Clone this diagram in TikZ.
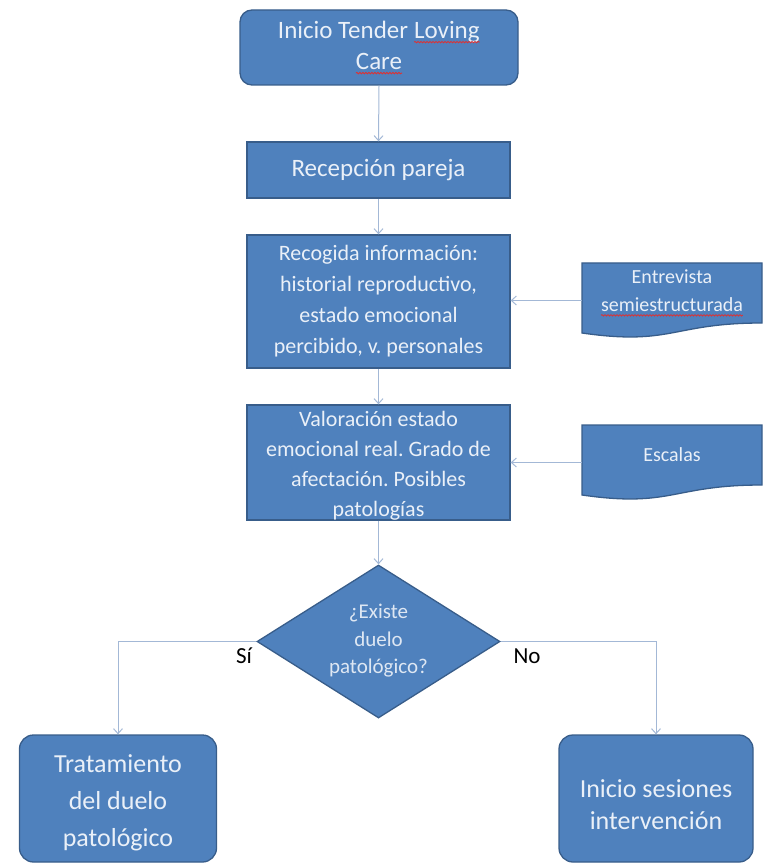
\documentclass[tikz,border=0pt]{standalone}
\usepackage{fontspec}
\setmainfont{Carlito}
\frenchspacing
\usetikzlibrary{shapes.geometric,arrows.meta,decorations.pathmorphing}
\definecolor{boxfill}{HTML}{4F81BD}
\definecolor{boxborder}{HTML}{385D8A}
\definecolor{boxtext}{HTML}{EAF0F8}
\definecolor{linecol}{HTML}{A3B8D6}
\definecolor{spellred}{HTML}{E03030}
\newcommand\spellerr[1]{\tikz[baseline=(sp.base)]{\node[inner sep=0pt,outer sep=0pt,
    minimum width=0pt,minimum height=0pt,draw=none,fill=none,sharp corners,shape=rectangle] (sp) {#1};
  \draw[draw=spellred,fill=none,sharp corners,line width=0.8pt,decorate,decoration={snake,amplitude=0.7pt,segment length=3pt}]
  ([yshift=-4pt]sp.base west) -- ([yshift=-4pt]sp.base east);}}
\begin{document}
\begin{tikzpicture}[x=1pt,y=-1pt,
  box/.style={draw=boxborder, line width=1.3pt, fill=boxfill, text=boxtext, align=center, inner sep=2pt},
  docshape/.style={draw=boxborder, line width=1.3pt, fill=boxfill},
  doctext/.style={text=boxtext, align=center, font=\fontsize{20}{28}\selectfont},
  intext/.style={text=boxtext, align=center, inner sep=0pt},
  conn/.style={draw=linecol, line width=1pt, -{Straight Barb[length=5pt,width=9pt]}},
  lbl/.style={text=black, font=\fontsize{23}{28}\selectfont}
]
\useasboundingbox (0,0) rectangle (765,866);

\node[box, rounded corners=12pt, minimum width=278pt, minimum height=75pt,
  font=\fontsize{25}{31}\selectfont] (start) at (379,47.5)
  {Inicio Tender \spellerr{Loving}\\\spellerr{Care}};

\node[box, minimum width=263pt, minimum height=56pt,
  font=\fontsize{25}{30}\selectfont] (recep) at (378.5,170) {Recepción pareja};

\node[box, minimum width=263pt, minimum height=133pt,
  font=\fontsize{22}{31}\selectfont] (recog) at (378.5,301.5)
  {Recogida información:\\historial reproductivo,\\estado emocional\\percibido, v. personales};

\node[box, minimum width=263pt, minimum height=115pt] (valor) at (378.5,462.5) {};
\node[intext, font=\fontsize{22}{30}\selectfont] (valort) at ([yshift=-3pt]valor.center)
  {Valoración estado\\emocional real. Grado de\\afectación. Posibles\\patologías};

% document shapes
\node[minimum width=180pt, minimum height=75pt, inner sep=0] (entrev) at (672,300.5) {};
\draw[docshape] (582,263) -- (762,263) -- (762,323) .. controls (672,323) and (672,346) .. (582,333) -- cycle;
\node[doctext] (entrevt) at (672,293) {Entrevista\\\spellerr{semiestructurada}};

\node[minimum width=180pt, minimum height=75pt, inner sep=0] (escal) at (672,462.5) {};
\draw[docshape] (582,425) -- (762,425) -- (762,485) .. controls (672,485) and (672,508) .. (582,495) -- cycle;
\node[doctext] (escalt) at (672,455) {Escalas};

% decision
\node[diamond, draw=boxborder, fill=boxfill, line width=1.3pt, minimum width=243pt,
  minimum height=153pt, inner sep=0] (dec) at (378.5,641.5) {};
\node[intext, text=boxtext!92!boxfill, font=\fontsize{21}{27.5}\selectfont] (dect) at (378.5,641)
  {¿Existe\\duelo\\patológico?};

\node[box, rounded corners=14pt, minimum width=197pt, minimum height=127pt] (trat) at (118,798.5) {};
\node[intext, font=\fontsize{26}{37}\selectfont] (tratt) at ([yshift=-4pt]trat.center)
  {Tratamiento\\del duelo\\patológico};
\node[box, rounded corners=14pt, minimum width=194pt, minimum height=127pt] (inis) at (656,798.5) {};
\node[intext, font=\fontsize{26}{32}\selectfont] (inist) at ([yshift=-6pt]inis.center)
  {Inicio sesiones\\intervención};

\node[lbl] (si) at (244,656) {Sí};
\node[lbl] (no) at (527,656) {No};

% connectors
\draw[conn] (start.south) -- (recep.north);
\draw[conn] (recep.south) -- (recog.north);
\draw[conn] (recog.south) -- (valor.north);
\draw[conn] (valor.south) -- (dec.north);
\draw[conn] (entrev.west) -- (entrev.west -| recog.east);
\draw[conn] (escal.west) -- (escal.west -| valor.east);
\draw[conn] (dec.west) -| (trat.north);
\draw[conn] (dec.east) -| (inis.north);
\end{tikzpicture}
\end{document}
